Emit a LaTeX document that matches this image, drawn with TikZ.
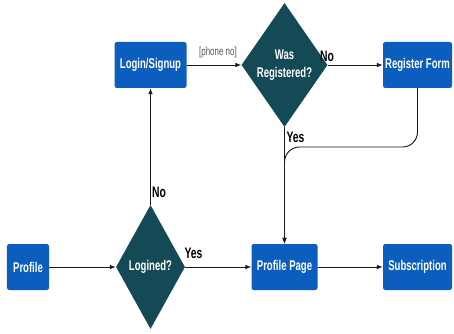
\documentclass[tikz,border=0pt]{standalone}
\usepackage{fontspec}
\usetikzlibrary{shapes.geometric,arrows.meta}
\setmainfont{Liberation Sans}[FakeStretch=0.68]
\definecolor{boxblue}{HTML}{0B5EBE}
\definecolor{deepteal}{HTML}{134A56}
\definecolor{ink}{HTML}{1A1A1A}
\definecolor{mute}{HTML}{555555}

\begin{document}
\begin{tikzpicture}[x=.03cm,y=.03cm,
  box/.style={fill=boxblue,rounded corners=2pt,text=white,font=\fontsize{12}{15.5}\selectfont\bfseries,minimum height=1.38cm,inner sep=0pt,align=center},
  ask/.style={diamond,fill=deepteal,text=white,font=\fontsize{12}{15.5}\selectfont\bfseries,minimum width=2.07cm,minimum height=3.72cm,inner sep=0pt,align=center},
  flow/.style={draw=ink,line width=.8pt,-{Latex[length=5pt,width=4pt]}},
  tag/.style={font=\fontsize{13}{15}\selectfont\bfseries,text=black}]
\useasboundingbox (0,0) rectangle (454,333);
% top row
\node[box,minimum width=2.16cm] (login) at (150.5,268) {Login/Signup};
\node[ask] (wasreg) at (284.5,268) {Was\\Registered?};
\node[box,minimum width=2.07cm] (regform) at (417.5,268) {Register Form};
% bottom row
\node[box,minimum width=1.26cm] (profile) at (28,66) {Profile};
\node[ask] (logined) at (150.5,66) {Logined?};
\node[box,minimum width=1.98cm] (ppage) at (284.5,66) {Profile Page};
\node[box,minimum width=2.07cm] (subscr) at (417.5,66) {Subscription};
% labels on the branches
\node[font=\fontsize{10}{12}\selectfont,text=mute] (phone) at (218,281) {[phone no]};
\node[tag] (regno) at (327,277) {No};
\node[tag] (regyes) at (295.5,195.5) {Yes};
\node[tag] (logno) at (159,141) {No};
\node[tag] (logyes) at (193.5,79.5) {Yes};
% connectors
\draw[flow] (profile) -- (logined);
\draw[flow] (logined) -- (ppage);
\draw[flow] (ppage) -- (subscr);
\draw[flow] (logined.north) -- (login.south);
\draw[flow] (login) -- (wasreg);
\draw[flow] (wasreg) -- (regform);
\draw[flow] (wasreg.south) -- (ppage.north);
\coordinate (merge) at (284.5,186);
\draw[flow,rounded corners=.45cm] (regform.south) |- (merge) -- (ppage.north);
\end{tikzpicture}
\end{document}
